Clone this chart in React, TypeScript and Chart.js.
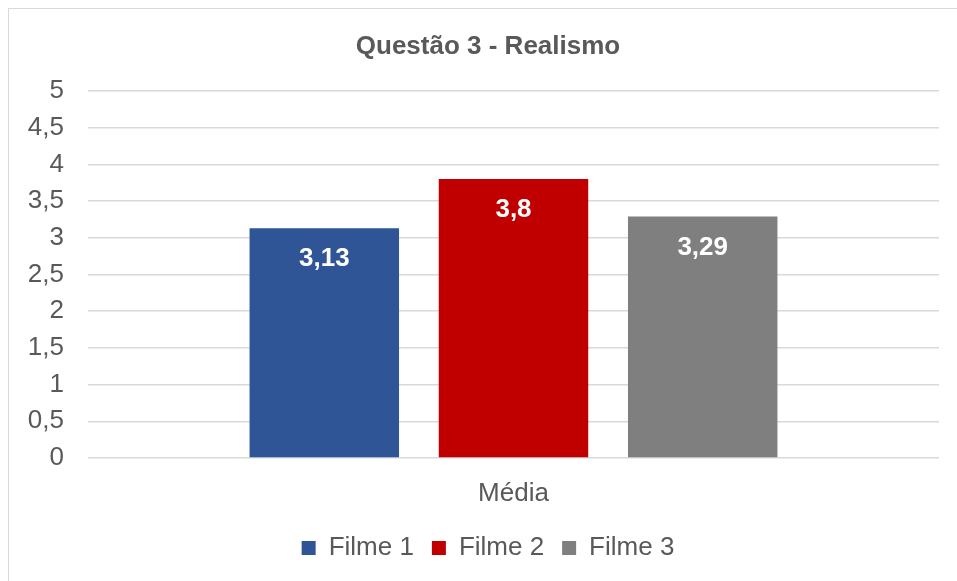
import React, { useEffect, useRef } from "react";
import { Chart, registerables } from "chart.js";

Chart.register(...registerables);

const title = "Questão 3 - Realismo";
const categories = ["Média"];
const seriesNames = ["Filme 1", "Filme 2", "Filme 3"];
const seriesValues = [[3.13], [3.8], [3.29]];
const seriesColors = ["#2F5597", "#C00000", "#7F7F7F"];
const yMin = 0;
const yMax = 5;
const yStep = 0.5;

const FONT = "'Liberation Sans', Arial, sans-serif";
const TEXT = "#595959";

const fmt = (v: number) => String(v).replace(".", ",");

const dataLabelPlugin = {
  id: "dataLabels",
  afterDatasetsDraw(chart: any) {
    const ctx = chart.ctx;
    ctx.save();
    ctx.fillStyle = "#ffffff";
    ctx.font = `bold 26px ${FONT}`;
    ctx.textAlign = "center";
    ctx.textBaseline = "middle";
    chart.data.datasets.forEach((ds: any, i: number) => {
      const meta = chart.getDatasetMeta(i);
      meta.data.forEach((el: any, j: number) => {
        ctx.fillText(fmt(ds.data[j]), el.x, el.y + 31);
      });
    });
    ctx.restore();
  },
};

export default function App() {
  const ref = useRef<HTMLCanvasElement | null>(null);
  useEffect(() => {
    if (!ref.current) return;
    const chart = new Chart(ref.current, {
      type: "bar",
      data: {
        labels: categories,
        datasets: seriesNames.map((name, i) => ({
          label: name,
          data: seriesValues[i],
          backgroundColor: seriesColors[i],
          borderWidth: 0,
          categoryPercentage: 0.667,
          barPercentage: 0.79,
        })),
      },
      options: {
        responsive: false,
        animation: false,
        devicePixelRatio: 1,
        layout: { padding: { left: 0, right: 0, top: 0, bottom: 13 } },
        plugins: {
          title: {
            display: true,
            text: title,
            color: TEXT,
            font: { family: FONT, size: 26, weight: "bold" },
            padding: { top: 22.4, bottom: 28.4 },
          },
          legend: {
            position: "bottom",
            labels: {
              color: TEXT,
              font: { family: FONT, size: 26 },
              boxWidth: 14,
              boxHeight: 14,
              padding: 18,
            },
          },
          tooltip: { enabled: false },
        },
        scales: {
          x: {
            grid: { display: false, drawTicks: false },
            border: { display: false },
            ticks: { color: TEXT, font: { family: FONT, size: 26 }, padding: 20 },
            afterFit: (s: any) => {
              s.height = 59;
            },
          },
          y: {
            min: yMin,
            max: yMax,
            grid: { color: "#d9d9d9", lineWidth: 1.5, drawTicks: false },
            border: { display: false },
            ticks: {
              stepSize: yStep,
              color: TEXT,
              font: { family: FONT, size: 26 },
              padding: 24,
              callback: (v: any) => fmt(Number(v)),
            },
            afterFit: (s: any) => {
              s.width = 79;
            },
          },
          yRight: {
            type: "linear",
            position: "right",
            display: true,
            grid: { display: false, drawTicks: false },
            border: { display: false },
            ticks: { display: false },
            afterFit: (s: any) => {
              s.width = 28;
            },
          },
        },
      },
      plugins: [dataLabelPlugin],
    });
    return () => chart.destroy();
  }, []);

  return (
    <div
      style={{
        position: "fixed",
        left: 8,
        top: 8,
        width: 980,
        height: 600,
        border: "1px solid #d9d9d9",
        boxSizing: "border-box",
        overflow: "hidden",
        background: "#fff",
      }}
    >
      <canvas ref={ref} width={958} height={575} style={{ display: "block" }} />
    </div>
  );
}
